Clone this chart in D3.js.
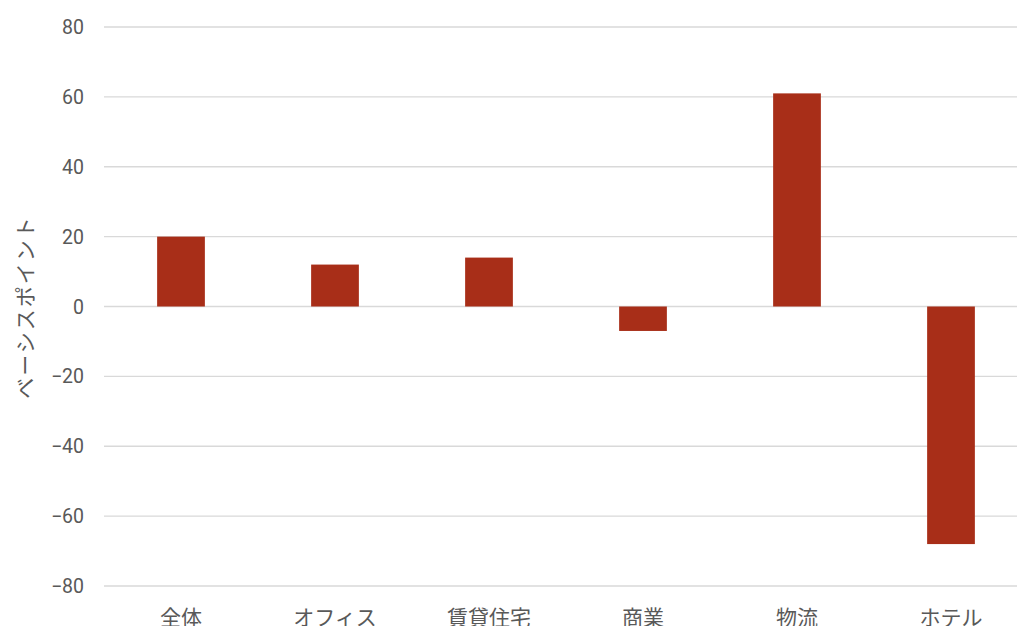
<!DOCTYPE html>
<html><head><meta charset="utf-8">
<script src="https://cdn.jsdelivr.net/npm/d3@7"></script>
<style>
body{margin:0;background:#fff;}
text{font-family:"Noto Sans CJK JP","Noto Sans",sans-serif;fill:#595959;}
.tick{font-family:Roboto,"Liberation Sans",sans-serif;}
</style></head>
<body><svg id="c" width="1017" height="626"></svg>
<script>
const categories=["全体","オフィス","賃貸住宅","商業","物流","ホテル"];
const values=[20,12,14,-7,61,-68];
const yTicks=[80,60,40,20,0,-20,-40,-60,-80];
const yLabel="ベーシスポイント";

const svg=d3.select("#c");
const x=d3.scaleBand().domain(categories).range([104,1028]).paddingInner(0.69).paddingOuter(0.345);
const y=d3.scaleLinear().domain([-80,80]).range([586,27]);

svg.append("g").selectAll("line").data(yTicks).join("line")
 .attr("x1",104).attr("x2",1017).attr("y1",d=>y(d)).attr("y2",d=>y(d))
 .attr("stroke","#d9d9d9").attr("stroke-width",1.3);

svg.append("g").selectAll("rect").data(values).join("rect")
 .attr("x",(d,i)=>x(categories[i])).attr("width",x.bandwidth())
 .attr("y",d=>y(Math.max(0,d))).attr("height",d=>Math.abs(y(d)-y(0)))
 .attr("fill","#a82e18");

svg.append("g").selectAll("text").data(yTicks).join("text").attr("class","tick")
 .attr("x",84).attr("y",d=>y(d)).attr("dy","0.36em").attr("text-anchor","end")
 .attr("font-size",19.5).text(d=>d<0?"−"+Math.abs(d):d);

svg.append("g").selectAll("text").data(categories).join("text")
 .attr("x",d=>x(d)+x.bandwidth()/2).attr("y",625).attr("text-anchor","middle")
 .attr("font-size",21).text(d=>d);

svg.append("text").attr("transform","translate(33,307) rotate(-90)")
 .attr("text-anchor","middle").attr("font-size",21).attr("letter-spacing","2px").text(yLabel);
</script></body></html>
